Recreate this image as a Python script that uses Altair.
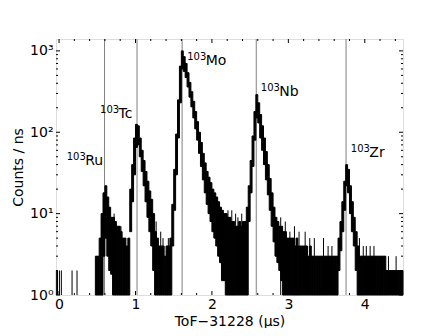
import altair as alt
import pandas as pd

# ---- histogram envelope (bins of 0.025 us starting at 0.475) ----
X0 = 0.475
BIN = 0.025
bin_hi = [
    # Ru region 0.475 .. 0.875
    3, 3, 5, 10, 18, 22, 16, 12, 9, 9, 8, 7, 7, 6, 5, 5, 4,
    # Tc region 0.900 .. 1.450
    5, 20, 40, 85, 125, 120, 85, 60, 45, 33, 25, 19, 15, 10, 6, 5, 4, 4, 4, 3, 4, 4, 5,
    # Mo region 1.475 .. 2.425
    13, 35, 95, 250, 650, 1000, 850, 700, 540, 410, 315, 240, 180, 135, 100, 75, 55, 42,
    33, 28, 24, 20, 18, 16, 14, 12, 11, 10, 10, 9, 9, 8, 8, 7, 7, 8, 7, 8, 8,
    # Nb region 2.450 .. 3.625
    12, 22, 45, 90, 180, 290, 230, 165, 120, 85, 58, 40, 27, 18, 12, 9, 8, 7, 7, 6, 6, 5,
    5, 5, 5, 4, 5, 4, 4, 4, 4, 4, 3, 4, 3, 3, 3, 3, 3, 3, 3, 3, 3, 3, 3, 3, 3, 3,
    # Zr region 3.650 .. 3.875
    5, 8, 14, 25, 40, 35, 22, 14, 9, 6,
    # tail 3.900 .. 4.475
    4, 3, 3, 3, 3, 3, 3, 3, 3, 3, 3, 3, 3, 3, 3, 2, 2, 2, 2, 2, 2, 2, 2, 2,
]
bin_lo = [
    1, 1, 1, 1, 3, 5, 3, 2, 1.8, 1, 1, 1, 1, 1, 1, 1, 1,
    1, 6, 14, 30, 65, 70, 50, 33, 22, 14, 9, 6, 4, 2, 1, 1, 1, 1, 1, 1, 1, 1, 1,
    4, 11, 30, 85, 230, 600, 560, 470, 360, 270, 205, 150, 110, 80, 55, 38, 26, 18,
    13, 10, 8, 6, 5, 4, 3, 2.5, 1.5, 1.5, 1, 1, 1, 1, 1, 1, 1, 1, 1, 1, 1,
    1, 8, 18, 38, 80, 150, 130, 85, 60, 40, 26, 17, 11, 7, 4.5, 3, 2.5, 2, 1.5, 1, 1, 1,
    1, 1, 1, 1, 1, 1, 1, 1, 1, 1, 1, 1, 1, 1, 1, 1, 1, 1, 1, 1, 1, 1, 1, 1, 1, 1,
    2, 3.5, 6, 11, 22, 18, 10, 6, 4, 2,
    1, 1, 1, 1, 1, 1, 1, 1, 1, 1, 1, 1, 1, 1, 1, 1, 1, 1, 1, 1, 1, 1, 1, 1,
]

# isolated single-bin spikes (ToF, counts)
spike_x = [-0.035, -0.02, 0.005, 0.03, 0.17, 0.235, 0.49, 0.555, 0.72, 0.81,
           1.27, 1.33, 1.36, 1.43, 2.21, 2.26, 2.31, 2.34, 2.39,
           2.90, 2.96, 3.02, 3.08, 3.14, 3.22, 3.28, 3.34, 3.46, 3.52, 3.57,
           3.93, 3.98, 4.02, 4.07, 4.12, 4.20, 4.31, 4.41]
spike_v = [2, 2, 2, 2, 2, 2, 3, 9, 10, 7,
           8, 6, 5, 5, 11, 11, 10, 9, 10,
           9, 8, 6, 7, 6, 6, 5, 5, 5, 4, 4,
           5, 4, 4, 4, 4, 3, 3, 3]

# reference positions of the isobars
line_x = [0.595, 1.02, 1.61, 2.58, 3.755]

# labels
lab_x = [0.10, 0.536, 1.677, 2.64, 3.817]
lab_y = [39.3, 148, 662, 277, 49]
lab_sup = ["103", "103", "103", "103", "103"]
lab_el = ["Ru", "Tc", "Mo", "Nb", "Zr"]

# axis ticks
x_major = [0, 1, 2, 3, 4]
x_minor = [0.2, 0.4, 0.6, 0.8, 1.2, 1.4, 1.6, 1.8, 2.2, 2.4, 2.6, 2.8,
           3.2, 3.4, 3.6, 3.8, 4.2, 4.4]
y_major = [1, 10, 100, 1000]
y_minor = [2, 3, 4, 5, 6, 7, 8, 9, 20, 30, 40, 50, 60, 70, 80, 90,
           200, 300, 400, 500, 600, 700, 800, 900]

W, H = 347, 256
FONT = "DejaVu Sans"

df = pd.DataFrame({"x0": [round(X0 + i * BIN, 4) for i in range(len(bin_hi))],
                   "hi": bin_hi, "lo": bin_lo})
df["x1"] = df["x0"] + BIN
spikes = pd.DataFrame({"x": spike_x, "v": spike_v})
lines_df = pd.DataFrame({"x": line_x})
labels = pd.DataFrame({"x": lab_x, "y": lab_y, "sup": lab_sup, "el": lab_el})

xs = alt.Scale(domain=[-0.04, 4.5], nice=False, zero=False)
ys = alt.Scale(type="log", domain=[1, 1400], nice=False)

XT = "ToF\u221231228 (\u03bcs)"
YT = "Counts / ns"
xaxis = alt.Axis(values=x_major, format="d", title=XT,
                 tickSize=0, labelPadding=2, domain=False, grid=False,
                 labelFontSize=14, titleFontSize=14, titleFontWeight="normal",
                 titleBaseline="alphabetic", titleY=30,
                 labelFont=FONT, titleFont=FONT,
                 labelColor="black", titleColor="black")
yaxis = alt.Axis(values=y_major, title=YT,
                 labelExpr="datum.value == 1 ? '10\u2070' : datum.value == 10 ? '10\u00b9' : datum.value == 100 ? '10\u00b2' : '10\u00b3'",
                 tickSize=0, labelPadding=3, domain=False, grid=False,
                 labelFontSize=14, titleFontSize=14, titleFontWeight="normal",
                 titlePadding=4, labelFont=FONT, titleFont=FONT,
                 labelColor="black", titleColor="black")


def X(f):
    return alt.X(f, scale=xs, axis=xaxis, title=XT)


def Y(f):
    return alt.Y(f, scale=ys, axis=yaxis, title=YT)


gray = alt.Chart(lines_df).mark_rule(color="#808080", strokeWidth=1).encode(x=X("x:Q"))

bars = alt.Chart(df).mark_rect(color="black", stroke="black", strokeWidth=1).encode(
    x=X("x0:Q"), x2="x1:Q", y=Y("hi:Q"), y2="lo:Q")

spk = alt.Chart(spikes).mark_rule(color="black", strokeWidth=1).encode(
    x=X("x:Q"), y=Y("v:Q"), y2=alt.datum(1))


def xticks(vals, length):
    d = pd.DataFrame({"t": vals})
    b = alt.Chart(d).mark_rule(color="black", strokeWidth=1).encode(
        x=X("t:Q"), y=alt.value(H), y2=alt.value(H - length))
    t = alt.Chart(d).mark_rule(color="black", strokeWidth=1).encode(
        x=X("t:Q"), y=alt.value(0), y2=alt.value(length))
    return [b, t]


def yticks(vals, length):
    d = pd.DataFrame({"t": vals})
    l = alt.Chart(d).mark_rule(color="black", strokeWidth=1).encode(
        y=Y("t:Q"), x=alt.value(0), x2=alt.value(length))
    r = alt.Chart(d).mark_rule(color="black", strokeWidth=1).encode(
        y=Y("t:Q"), x=alt.value(W), x2=alt.value(W - length))
    return [l, r]


sup = alt.Chart(labels).mark_text(align="left", baseline="alphabetic", fontSize=10,
                                  dy=-5, font=FONT, color="black").encode(
    x=X("x:Q"), y=Y("y:Q"), text="sup:N")
el = alt.Chart(labels).mark_text(align="left", baseline="alphabetic", fontSize=14,
                                 dx=18.5, font=FONT, color="black").encode(
    x=X("x:Q"), y=Y("y:Q"), text="el:N")

layers = [gray, bars, spk] + xticks(x_major, 4) + xticks(x_minor, 2) + \
    yticks(y_major, 4) + yticks(y_minor, 2) + [sup, el]

chart = alt.layer(*layers).properties(
    width=W, height=H,
    padding={"left": 48, "top": 31, "right": 37, "bottom": 33},
    autosize=alt.AutoSizeParams(type="none"),
).configure_view(stroke="black", strokeWidth=1).configure(background="white")

chart.save("out.html", embed_options={"renderer": "svg", "actions": False})
